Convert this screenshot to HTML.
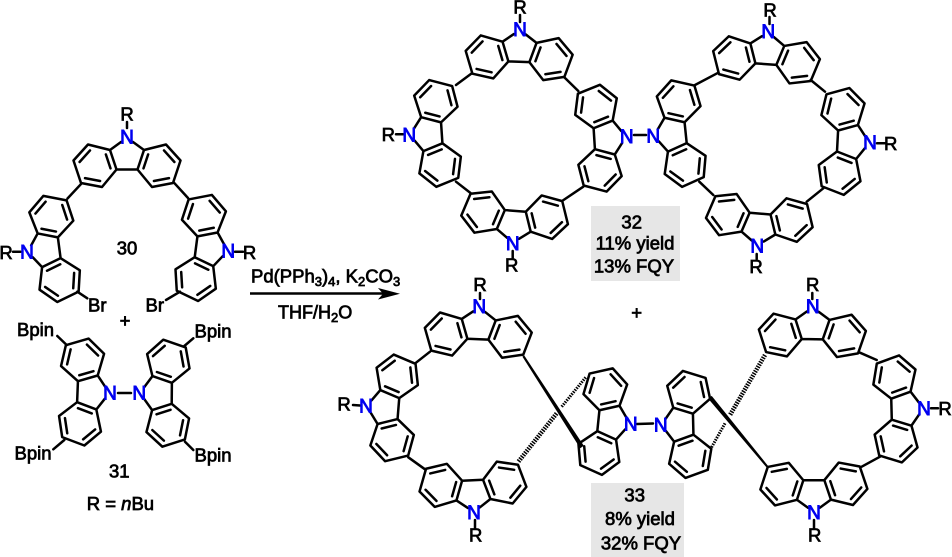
<!DOCTYPE html>
<html><head><meta charset="utf-8"><style>
html,body{margin:0;padding:0;background:#fff;width:952px;height:557px;overflow:hidden}
svg{display:block}
text{font-family:"Liberation Sans",Arial,sans-serif;font-size:18.5px;fill:#000;stroke:#000;stroke-width:.75;text-anchor:middle}
.n{fill:#0000f0;stroke:#0000f0;font-size:19px;stroke-width:.9}
.l{text-anchor:start}
.b{fill:none;stroke:#000;stroke-width:2.5;stroke-linecap:round;stroke-linejoin:round}
</style></head><body>
<svg width="952" height="557" viewBox="0 0 952 557" xmlns="http://www.w3.org/2000/svg">
<defs>
<g id="c">
<path class="b" d="M-6,5L-17,13L-39,7.5L-53.5,23.5L-46,46L-25,50L-10.5,32.5L-17,13M-10.5,32.5L10.5,32.5L17,13L39,7.5L53.5,23.5L46,46L25,50L10.5,32.5M17,13L6,5"/>
<path class="b" d="M21.15,17.4L16.5,31.4M37,13.4L47.4,25M42,41.1L26.9,44M-21.15,17.4L-16.5,31.4M-37,13.4L-47.4,25M-42,41.1L-26.9,44"/>
</g>
</defs>

<!-- grey boxes -->
<rect x="591" y="206" width="89" height="75" fill="#e6e6e6"/>
<rect x="591" y="483" width="93" height="74" fill="#e6e6e6"/>

<!-- 30 -->
<use href="#c" transform="translate(127,137)"/>
<use href="#c" transform="translate(27,252) rotate(-97.5)"/>
<use href="#c" transform="translate(228.3,251) rotate(97.4)"/>
<path class="b" d="M81.7,183.3L67.5,198.5M174,182.7L188,198M127,122L127,128M13,251.7L20.5,251.7M235,251.7L243,251.7M77.3,291.7L87.3,298.3M180,291.7L166,300"/>
<!-- 31 -->
<use href="#c" transform="translate(110,393) rotate(92.3)"/>
<use href="#c" transform="translate(139.3,393) rotate(-89.5)"/>
<path class="b" d="M118,393L131,393M57.3,336L66.7,345M193.3,338.3L184.3,346M53.3,449.3L64.3,440M185,441.7L193.3,450"/>

<!-- 32 left -->
<use href="#c" transform="translate(520,29.3) rotate(2)"/>
<use href="#c" transform="translate(409.3,135) rotate(-93.8)"/>
<use href="#c" transform="translate(512.7,243.3) rotate(-175.4)"/>
<use href="#c" transform="translate(626.7,136.7) rotate(86.4)"/>
<!-- 32 right -->
<use href="#c" transform="translate(768.3,31.7) rotate(4.3)"/>
<use href="#c" transform="translate(653.3,136) rotate(-95.8)"/>
<use href="#c" transform="translate(757.3,246) rotate(-175.1)"/>
<use href="#c" transform="translate(870,142.7) rotate(93)"/>
<path class="b" d="M471.5,73.5L456,85M564,77L578.3,91M456,181.7L470.5,193M562.8,200.5L583.3,186.7M634,135L646,135
M718.3,72.7L695,85M810.7,80L825,91.7M699.3,181.7L713.3,195M806.7,201.7L823.3,188.3
M520,15L520,22M396,134.3L403,134.3M512.7,251L512.7,258M769.5,17L769.5,24M877,143.3L885,143.3M756.7,254L756.7,259"/>

<!-- 33 -->
<use href="#c" transform="translate(479.3,306.7) rotate(2.5)"/>
<use href="#c" transform="translate(366,406) rotate(-85.4)"/>
<use href="#c" transform="translate(474,512.7) rotate(177.5)"/>
<use href="#c" transform="translate(630.7,424) rotate(95.8)"/>
<use href="#c" transform="translate(660.7,425) rotate(-91.4)"/>
<use href="#c" transform="translate(812.7,306.7) rotate(.8)"/>
<use href="#c" transform="translate(924,408.3) rotate(88.5)"/>
<use href="#c" transform="translate(814,512.7) rotate(179.7)"/>
<path class="b" d="M430,351.7L416,362.7M408.3,457.3L425,469.3M637,424L653,423.5M860,352.7L876.7,360M880,456.7L861.7,466.7
M480,293L480,299M353,405L360,405.5M475,520L475,528M812.3,293L812.3,299M931,408.3L938,408.3M814,520L814,528"/>
<!-- wedges -->
<polygon points="524.2,355.4 522.4,356.6 580.2,448.2 583.8,445.8" fill="#000"/>
<polygon points="768.1,466 766.5,467.4 708.3,398.7 711.7,395.9" fill="#000"/>
<!-- hashed -->
<line x1="518.5" y1="461.5" x2="556.7" y2="413.3" stroke="#000" stroke-width="4.5" stroke-dasharray="1.5 1.1"/>
<line x1="561.7" y1="406.7" x2="586" y2="377" stroke="#000" stroke-width="3" stroke-dasharray="1.5 1.1"/>
<line x1="765" y1="355" x2="730" y2="415" stroke="#000" stroke-width="4.5" stroke-dasharray="1.5 1.1"/>
<line x1="725" y1="423.3" x2="711" y2="448.3" stroke="#000" stroke-width="3" stroke-dasharray="1.5 1.1"/>

<!-- arrow -->
<path d="M250,293.5L385,293.5" stroke="#000" stroke-width="2.5" fill="none"/>
<polygon points="400,293.8 378,288 383,293.8 378,299.5" fill="#000"/>

<!-- N labels -->
<g>
<text class="n" x="127" y="143.5">N</text>
<text class="n" x="27" y="258.5">N</text>
<text class="n" x="228.3" y="257.5">N</text>
<text class="n" x="110" y="399.5">N</text>
<text class="n" x="139.3" y="399.5">N</text>
<text class="n" x="520" y="36">N</text>
<text class="n" x="409.3" y="141.5">N</text>
<text class="n" x="512.7" y="250">N</text>
<text class="n" x="626.7" y="143">N</text>
<text class="n" x="653.3" y="142.5">N</text>
<text class="n" x="768.3" y="38">N</text>
<text class="n" x="757.3" y="252.5">N</text>
<text class="n" x="870" y="149">N</text>
<text class="n" x="479.3" y="313">N</text>
<text class="n" x="366" y="412.5">N</text>
<text class="n" x="474" y="519">N</text>
<text class="n" x="630.7" y="430.5">N</text>
<text class="n" x="660.7" y="431.5">N</text>
<text class="n" x="812.7" y="313">N</text>
<text class="n" x="924" y="414.8">N</text>
<text class="n" x="814" y="519">N</text>
</g>

<!-- R labels -->
<text x="127" y="120.5">R</text>
<text x="6" y="259">R</text>
<text x="249.5" y="259">R</text>
<text x="520" y="13.5">R</text>
<text x="388.3" y="141">R</text>
<text x="511.7" y="271.5">R</text>
<text x="770" y="16.5">R</text>
<text x="890.7" y="150">R</text>
<text x="756" y="273">R</text>
<text x="480" y="291">R</text>
<text x="344" y="410.5">R</text>
<text x="475.7" y="541.5">R</text>
<text x="812.7" y="291">R</text>
<text x="945" y="414.8">R</text>
<text x="814.7" y="541.5">R</text>

<!-- other text -->
<text class="l" x="88" y="311.7">Br</text>
<text class="l" x="145.5" y="311.7">Br</text>
<text x="127" y="254.5">30</text>
<text x="125" y="327">+</text>
<text class="l" x="17" y="336">Bpin</text>
<text class="l" x="194.5" y="337.7">Bpin</text>
<text class="l" x="14.5" y="459.3">Bpin</text>
<text class="l" x="194.5" y="461.7">Bpin</text>
<text x="119.3" y="477.5">31</text>
<text class="l" x="86.7" y="510">R = <tspan font-style="italic">n</tspan>Bu</text>
<text class="l" x="251" y="282.7">Pd(PPh<tspan dy="3.5" style="font-size:13px">3</tspan><tspan dy="-3.5">)</tspan><tspan dy="3.5" style="font-size:13px">4</tspan><tspan dy="-3.5">, K</tspan><tspan dy="3.5" style="font-size:13px">2</tspan><tspan dy="-3.5">CO</tspan><tspan dy="3.5" style="font-size:13px">3</tspan></text>
<text class="l" x="278" y="318.3" style="font-size:18px">THF/H<tspan dy="3.5" style="font-size:13px">2</tspan><tspan dy="-3.5">O</tspan></text>
<text x="636.7" y="319">+</text>

<text x="631.7" y="228.3">32</text>
<text x="635" y="249.3">11% yield</text>
<text x="634" y="272.7">13% FQY</text>
<text x="634.7" y="501.7">33</text>
<text x="640" y="525">8% yield</text>
<text x="641" y="549.3">32% FQY</text>
</svg>
</body></html>
